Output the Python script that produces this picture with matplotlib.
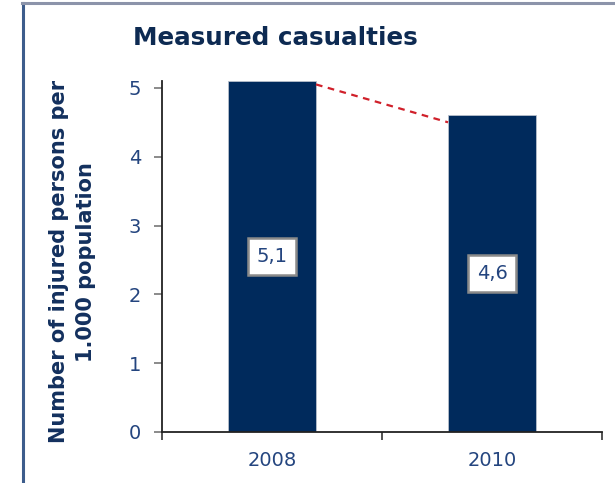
import numpy as np
import matplotlib
matplotlib.use("Agg")
import matplotlib.pyplot as plt
from matplotlib.lines import Line2D

years = ["2008", "2010"]
injured = [5.1, 4.6]
value_labels = ["5,1", "4,6"]
y_ticks = [0, 1, 2, 3, 4, 5]

navy = "#002a5c"
text_blue = "#24457f"

fig = plt.figure(figsize=(6.15, 4.83), dpi=100)
ax = fig.add_axes([0.2634, 0.1056, 0.7155, 0.7267])

x = np.arange(len(years)) + 0.5
bars = ax.bar(x, injured, width=0.4, color=navy, edgecolor="#b8c0cc",
              linewidth=0.6, zorder=2)

# dashed trend between the tops of the two bars
ax.plot([x[0] + 0.2, x[1] - 0.2], [injured[0] - 0.05, injured[1] - 0.1],
        linestyle=(0, (3, 2.5)), color="#d0202a", lw=1.6, zorder=3)

for xi, v, lab in zip(x, injured, value_labels):
    ax.text(xi, v / 2, lab, ha="center", va="center", fontsize=14,
            color=text_blue, zorder=4,
            bbox=dict(boxstyle="square,pad=0.45", facecolor="white",
                      edgecolor="#8a8a8a", linewidth=1.8))

ax.set_xlim(0, 2)
ax.set_ylim(0, 5.1)
ax.set_xticks([0, 1, 2])
ax.set_xticklabels([])
ax.set_xticks(x, minor=True)
ax.set_xticklabels(years, minor=True)
ax.tick_params(axis="x", which="minor", length=0, labelsize=14,
               labelcolor=text_blue, pad=14)
ax.tick_params(axis="x", which="major", length=6, width=1.2, color="#333333")
ax.set_yticks(y_ticks)
ax.tick_params(axis="y", length=6, width=1.2, color="#777777",
               labelsize=14, labelcolor=text_blue, pad=9)

for side in ["top", "right"]:
    ax.spines[side].set_visible(False)
for side in ["left", "bottom"]:
    ax.spines[side].set_linewidth(1.3)
    ax.spines[side].set_color("#222222")

ax.set_ylabel("Number of injured persons per\n1.000 population", fontsize=15,
              fontweight="bold", color="#13305e", linespacing=1.45)
ax.yaxis.set_label_coords(-0.15, 0.485)

fig.text(0.448, 0.922, "Measured casualties", ha="center", va="center",
         fontsize=17.7, fontweight="bold", color="#0d2a52")

# frame lines at the left and top of the panel
fig.add_artist(Line2D([23 / 615, 23 / 615], [0, 1 - 3 / 483],
                      color="#3d5d8c", lw=2.2, transform=fig.transFigure))
fig.add_artist(Line2D([22 / 615, 1], [1 - 3 / 483, 1 - 3 / 483],
                      color="#8c94aa", lw=2.2, transform=fig.transFigure))

fig.savefig("out.png", dpi=100)
